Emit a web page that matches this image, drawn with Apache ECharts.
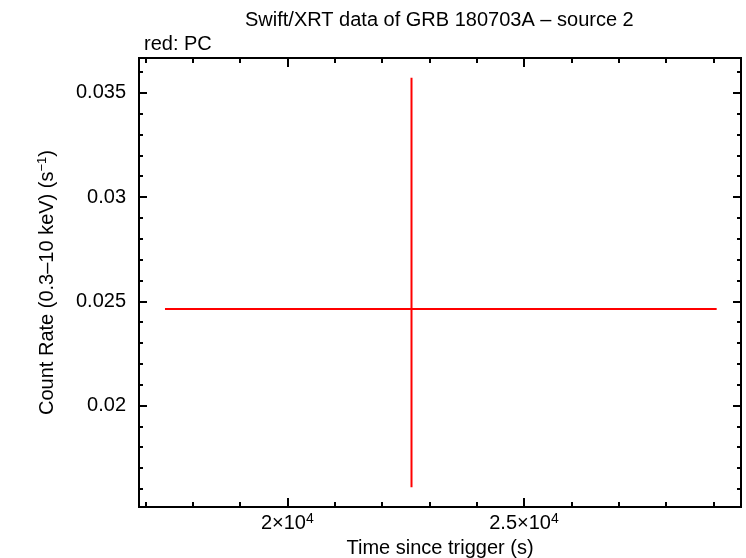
<!DOCTYPE html>
<html>
<head>
<meta charset="utf-8">
<script src="https://cdn.jsdelivr.net/npm/echarts@6/dist/echarts.min.js"></script>
<style>html,body{margin:0;padding:0;background:#fff;overflow:hidden}#c{width:746px;height:558px}</style>
</head>
<body>
<div id="c"></div>
<script>
// Data (PC mode, source 2)
const times = [22624];
const timeErrNeg = [-5208];
const timeErrPos = [6447];
const rates = [0.02463];
const rateErrPos = [0.01109];
const rateErrNeg = [-0.00855];

// Axis ranges and ticks
const xMin = 16867, xMax = 29585;
const yMin = 0.01513, yMax = 0.03667;
const xMajor = [20000, 25000];
const xMinor = [17000,18000,19000,20000,21000,22000,23000,24000,25000,26000,27000,28000,29000];
const yMajor = [0.02, 0.025, 0.03, 0.035];
const yMinor = [0.016,0.017,0.018,0.019,0.02,0.021,0.022,0.023,0.024,0.025,0.026,0.027,0.028,0.029,0.03,0.031,0.032,0.033,0.034,0.035,0.036];

const FONT = '"Liberation Sans", Arial, Helvetica, sans-serif';
const FS = 20;
const chart = echarts.init(document.getElementById('c'), null, {renderer: 'canvas', width: 746, height: 558});

function xAxisDef(pos, ticks, len, labels) {
  return {
    type: 'value', min: xMin, max: xMax, position: pos,
    axisLine: {show: true, onZero: false, lineStyle: {color: '#000', width: 2}},
    splitLine: {show: false},
    axisTick: {show: true, inside: true, length: len, customValues: ticks, lineStyle: {color: '#000', width: 2}},
    axisLabel: labels ? {
      show: true, customValues: xMajor, margin: 5, fontFamily: FONT, fontSize: FS, color: '#000',
      formatter: function (v) { const m = v / 10000; return '{b|' + m + '×10}{s|4}'; },
      rich: {b: {fontFamily: FONT, fontSize: FS, color: '#000'}, s: {fontFamily: FONT, fontSize: 14, color: '#000', verticalAlign: 'top', padding: [0,0,9,0]}}
    } : {show: false},
    name: labels ? 'Time since trigger (s)' : '',
    nameLocation: 'middle', nameGap: 29,
    nameTextStyle: {fontFamily: FONT, fontSize: FS, color: '#000'}
  };
}
function yAxisDef(pos, ticks, len, labels) {
  return {
    type: 'value', min: yMin, max: yMax, position: pos,
    axisLine: {show: true, onZero: false, lineStyle: {color: '#000', width: 2}},
    splitLine: {show: false},
    axisTick: {show: true, inside: true, length: len, customValues: ticks, lineStyle: {color: '#000', width: 2}},
    axisLabel: labels ? {
      show: true, customValues: yMajor, margin: 13, fontFamily: FONT, fontSize: FS, color: '#000',
      formatter: function (v) { return String(Math.round(v * 1000) / 1000); }
    } : {show: false},
    name: labels ? '{a|Count Rate (0.3–10 keV) (s}{s|−1}{a|)}' : '',
    nameLocation: 'middle', nameGap: 81,
    nameTextStyle: {fontFamily: FONT, fontSize: FS, color: '#000',
      rich: {a: {fontFamily: FONT, fontSize: FS, color: '#000'}, s: {fontFamily: FONT, fontSize: 13, color: '#000', verticalAlign: 'top', padding: [0,0,9,0]}}}
  };
}

const hSeg = times.map((t, i) => [[t + timeErrNeg[i], rates[i]], [t + timeErrPos[i], rates[i]]]);
const vSeg = times.map((t, i) => [[t, rates[i] + rateErrNeg[i]], [t, rates[i] + rateErrPos[i]]]);

const series = [];
hSeg.forEach(seg => series.push({type: 'line', data: seg, symbol: 'none', lineStyle: {color: '#ff0000', width: 2}, animation: false, xAxisIndex: 0, yAxisIndex: 0}));
vSeg.forEach(seg => series.push({type: 'line', data: seg, symbol: 'none', lineStyle: {color: '#ff0000', width: 2}, animation: false, xAxisIndex: 0, yAxisIndex: 0}));

chart.setOption({
  backgroundColor: '#fff',
  animation: false,
  title: [
    {text: 'Swift/XRT data of GRB 180703A – source 2', left: 240, top: 5, textStyle: {fontFamily: FONT, fontSize: FS, fontWeight: 'normal', color: '#000'}},
    {text: 'red: PC', left: 139, top: 29, textStyle: {fontFamily: FONT, fontSize: FS, fontWeight: 'normal', color: '#000'}}
  ],
  grid: {left: 139, right: 5, top: 58, bottom: 51, containLabel: false, outerBoundsMode: 'none'},
  xAxis: [
    xAxisDef('bottom', xMajor, 9, true),
    xAxisDef('bottom', xMinor, 5, false),
    xAxisDef('top', xMajor, 9, false),
    xAxisDef('top', xMinor, 5, false)
  ],
  yAxis: [
    yAxisDef('left', yMajor, 8, true),
    yAxisDef('left', yMinor, 4, false),
    yAxisDef('right', yMajor, 8, false),
    yAxisDef('right', yMinor, 4, false)
  ],
  series: series
});
</script>
</body>
</html>
